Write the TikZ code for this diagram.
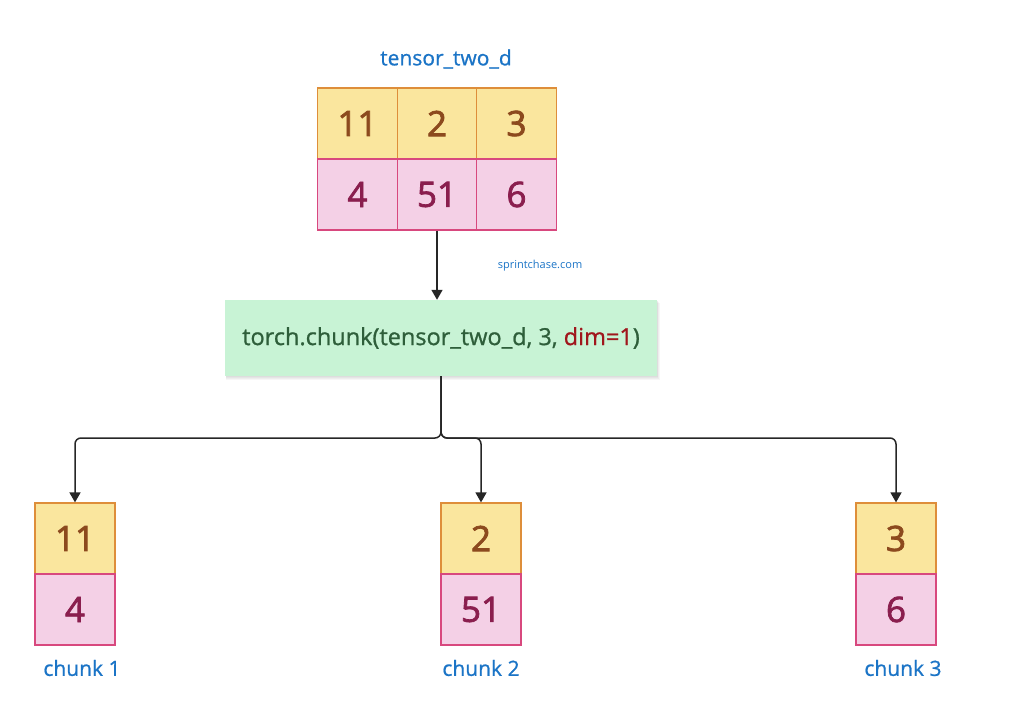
\documentclass[tikz,border=0pt]{standalone}
\usepackage{fontspec}
\setmainfont{Open Sans}[BoldFont={Open Sans},BoldFeatures={FakeBold=0.9}]
\newfontfamily\digitfont{Open Sans}[FakeBold=2.2]
\usetikzlibrary{arrows.meta}
\definecolor{yfill}{HTML}{FAE69E}
\definecolor{ydraw}{HTML}{DE8E3A}
\definecolor{ytext}{HTML}{8C4A1E}
\definecolor{pfill}{HTML}{F4D0E6}
\definecolor{pdraw}{HTML}{D8487E}
\definecolor{ptext}{HTML}{8A1E4E}
\definecolor{gfill}{HTML}{C8F3D5}
\definecolor{gtext}{HTML}{2E5E3A}
\definecolor{rtext}{HTML}{A0161C}
\definecolor{lblue}{HTML}{1B74C6}
\tikzset{
  cellbase/.style={minimum width=79.5pt, minimum height=71pt, inner sep=0pt, line width=1.2pt, font=\digitfont\fontsize{35}{40}\selectfont},
  ycell/.style={cellbase, fill=yfill, draw=ydraw, text=ytext},
  pcell/.style={cellbase, fill=pfill, draw=pdraw, text=ptext},
  lbl/.style={text=lblue, font=\fontsize{21}{24}\selectfont\bfseries, inner sep=0pt},
  conn/.style={line width=1.5pt, draw=black!85, -{Triangle[length=10pt,width=11pt]}, rounded corners=6pt},
  shadowlayer/.style={fill=black, opacity=0.035},
}
\begin{document}
\begin{tikzpicture}[x=1pt,y=-1pt]
\useasboundingbox (0,0) rectangle (1024,727);
% top tensor
\node[lbl] (title) at (446,59) {tensor\_two\_d};
\node[ycell] (t11) at (357.5,123.5) {11};
\node[ycell] (t2) at (437,123.5) {2};
\node[ycell] (t3) at (516.5,123.5) {3};
\node[pcell] (t4) at (357.5,194.5) {4};
\node[pcell] (t51) at (437,194.5) {51};
\node[pcell] (t6) at (516.5,194.5) {6};
\node[text=lblue, font=\fontsize{11}{13}\selectfont, inner sep=0pt] (wm) at (540,266) {sprintchase.com};
% command shadow
\fill[shadowlayer] (226,303) rectangle (660,380);
\fill[shadowlayer] (226,302) rectangle (659,379);
\fill[shadowlayer] (226,301) rectangle (658,378);
\fill[shadowlayer] (226,301) rectangle (657.5,377);
% command
\node[fill=gfill, minimum width=432pt, minimum height=76pt, inner sep=0pt, text=gtext,
      font=\fontsize{23.5}{26}\selectfont\bfseries] (cmd) at (441,338)
  {torch.chunk(tensor\_two\_d, 3, \textcolor{rtext}{dim=1})};
% chunks
\node[ycell, minimum width=80pt] (c1a) at (75,538.5) {11};
\node[pcell, minimum width=80pt] (c1b) at (75,609.5) {4};
\node[ycell, minimum width=80pt] (c2a) at (481,538.5) {2};
\node[pcell, minimum width=80pt] (c2b) at (481,609.5) {51};
\node[ycell, minimum width=80pt] (c3a) at (896,538.5) {3};
\node[pcell, minimum width=80pt] (c3b) at (896,609.5) {6};
\node[lbl] (l1) at (82,668) {chunk 1};
\node[lbl] (l2) at (481,668) {chunk 2};
\node[lbl] (l3) at (903,668) {chunk 3};
% connectors
\coordinate (j) at (441,438);
\draw[conn] (t51.south) -- (t51.south |- cmd.north);
\draw[conn] (cmd.south) -- (j) -| (c1a.north);
\draw[conn] (cmd.south) -- (j) -| (c2a.north);
\draw[conn] (cmd.south) -- (j) -| (c3a.north);
\end{tikzpicture}
\end{document}
